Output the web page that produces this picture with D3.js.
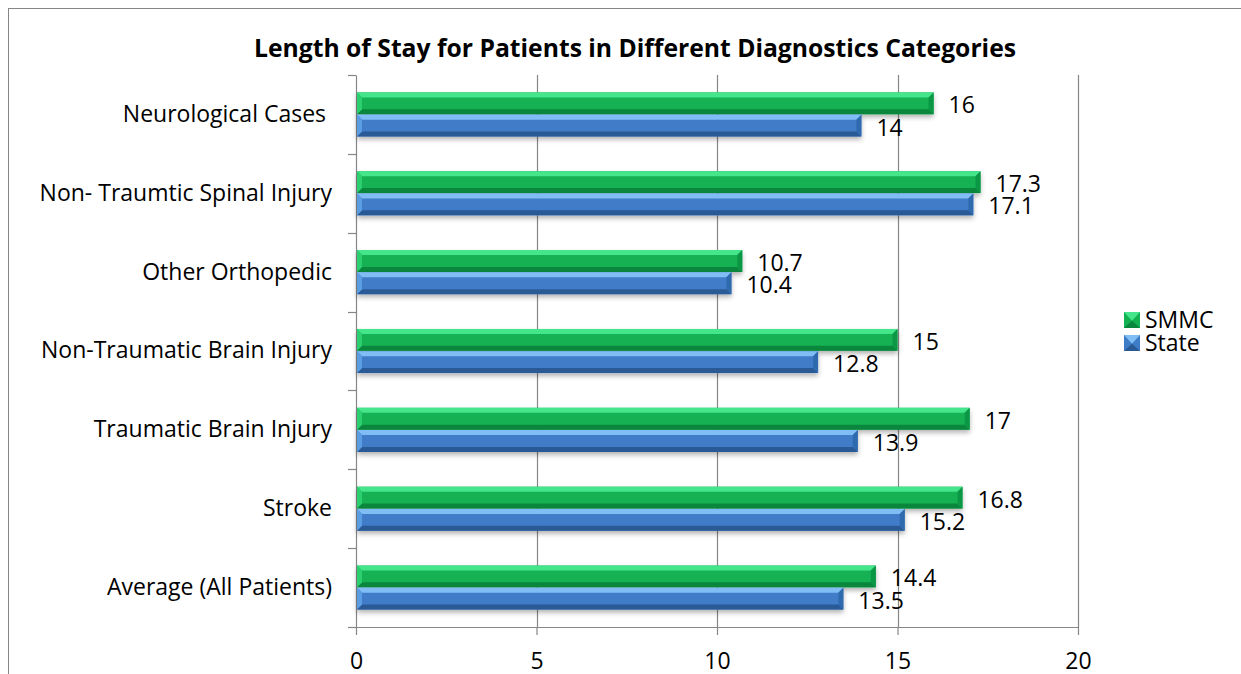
<!DOCTYPE html>
<html>
<head>
<meta charset="utf-8">
<script src="https://cdn.jsdelivr.net/npm/d3@7"></script>
<style>
  body { margin: 0; background: #fff; }
  text { font-family: "Open Sans", sans-serif; fill: #000; }
</style>
</head>
<body>
<div id="chart"></div>
<script>
// chart values
const categories = ["Neurological Cases ", "Non- Traumtic Spinal Injury", "Other Orthopedic",
    "Non-Traumatic Brain Injury", "Traumatic Brain Injury", "Stroke", "Average (All Patients)"];
const seriesNames = ["SMMC", "State"];
const smmcValues = [16, 17.3, 10.7, 15, 17, 16.8, 14.4];
const stateValues = [14, 17.1, 10.4, 12.8, 13.9, 15.2, 13.5];
const xTicks = [0, 5, 10, 15, 20];

const W = 1241, H = 674;
const plot = {l: 356, r: 1078, t: 75, b: 627};
const bevel = 5;
const fontSize = 23;

const palette = {
    SMMC: {face: "#13b152", top: "#45e58c", left: "#2bcf70", bottom: "#0a873d", right: "#0c9746"},
    State: {face: "#3f7cc7", top: "#7fbdf4", left: "#5a9de2", bottom: "#2a5a96", right: "#306aae"}
};

const svg = d3.select("#chart").append("svg")
    .attr("width", W).attr("height", H);

const defs = svg.append("defs");
const shadow = defs.append("filter").attr("id", "shadow")
    .attr("x", "-5%").attr("y", "-30%").attr("width", "110%").attr("height", "180%");
shadow.append("feDropShadow").attr("dx", 0).attr("dy", 3).attr("stdDeviation", 2.5)
    .attr("flood-color", "#000").attr("flood-opacity", 0.3);

// outer chart border (runs off the image on right and bottom)
svg.append("rect").attr("x", 8.5).attr("y", 8.5).attr("width", 1400).attr("height", 900)
    .attr("fill", "none").attr("stroke", "#868686").attr("stroke-width", 1);

// title
svg.append("text").attr("x", 635).attr("y", 57)
    .attr("text-anchor", "middle").attr("font-weight", "bold").attr("font-size", 24.7)
    .text("Length of Stay for Patients in Different Diagnostics Categories");

const x = d3.scaleLinear().domain([0, 20]).range([plot.l, plot.r]);
const y = d3.scaleBand().domain(categories).range([plot.t, plot.b])
    .paddingInner(0.43).paddingOuter(0.215);
const ySub = d3.scaleBand().domain(seriesNames).range([0, y.bandwidth()]).padding(0.02);

// gridlines
svg.append("g").selectAll("line").data(xTicks.slice(1)).enter().append("line")
    .attr("x1", d => Math.round(x(d)) + 0.5).attr("x2", d => Math.round(x(d)) + 0.5)
    .attr("y1", plot.t).attr("y2", plot.b)
    .attr("stroke", "#868686").attr("stroke-width", 1.2);

// x axis
const xAxis = svg.append("g").attr("transform", "translate(0," + plot.b + ")")
    .call(d3.axisBottom(x).tickValues(xTicks).tickSize(8).tickPadding(18).tickFormat(d3.format("d")));
xAxis.select(".domain").attr("d", "M" + (plot.l - 8) + ",0.5H" + plot.r)
    .attr("stroke", "#868686").attr("stroke-width", 1.2);
xAxis.selectAll(".tick line").attr("stroke", "#868686").attr("stroke-width", 1.2);
xAxis.selectAll(".tick text").attr("font-size", fontSize).attr("font-family", "'Open Sans', sans-serif").attr("fill", "#000");

// y axis
const yAxis = svg.append("g").attr("transform", "translate(" + plot.l + ",0)")
    .call(d3.axisLeft(y).tickSize(0).tickPadding(24));
yAxis.select(".domain").attr("stroke", "#868686").attr("stroke-width", 1.2);
yAxis.selectAll(".tick text").attr("font-size", fontSize).attr("font-family", "'Open Sans', sans-serif")
    .attr("fill", "#000").style("white-space", "pre");
// category separators
const bounds = categories.map(c => y(c) - y.step() * y.paddingInner() / 2).concat([plot.b]);
svg.append("g").selectAll("line").data(bounds).enter().append("line")
    .attr("x1", plot.l - 8).attr("x2", plot.l)
    .attr("y1", d => Math.round(d) + 0.5).attr("y2", d => Math.round(d) + 0.5)
    .attr("stroke", "#868686").attr("stroke-width", 1.2);

// bars
const rows = [];
categories.forEach((c, i) => {
    rows.push({cat: c, s: "SMMC", v: smmcValues[i]});
    rows.push({cat: c, s: "State", v: stateValues[i]});
});

const bars = svg.append("g").selectAll("g.bar").data(rows).enter()
    .append("g").attr("class", "bar");

function pts(arr) { return arr.map(p => p.join(",")).join(" "); }

bars.each(function (d) {
    const g = d3.select(this);
    const x0 = x(0) + 1, x1 = x(d.v);
    const y0 = y(d.cat) + ySub(d.s), y1 = y0 + ySub.bandwidth();
    const c = palette[d.s];
    const b = bevel;
    g.append("rect").attr("x", x0).attr("y", y0).attr("width", x1 - x0).attr("height", y1 - y0)
        .attr("fill", c.face).attr("filter", "url(#shadow)");
    g.append("polygon").attr("points", pts([[x0, y0], [x1, y0], [x1 - b, y0 + b], [x0 + b, y0 + b]])).attr("fill", c.top);
    g.append("polygon").attr("points", pts([[x0, y1], [x1, y1], [x1 - b, y1 - b], [x0 + b, y1 - b]])).attr("fill", c.bottom);
    g.append("polygon").attr("points", pts([[x0, y0], [x0 + b, y0 + b], [x0 + b, y1 - b], [x0, y1]])).attr("fill", c.left);
    g.append("polygon").attr("points", pts([[x1, y0], [x1 - b, y0 + b], [x1 - b, y1 - b], [x1, y1]])).attr("fill", c.right);
    g.append("text").attr("x", x1 + 15).attr("y", (y0 + y1) / 2 + 2).attr("dy", "0.35em")
        .attr("font-size", fontSize).text(d.v);
});

// legend
const legend = svg.append("g").selectAll("g").data(seriesNames).enter().append("g")
    .attr("transform", (d, i) => "translate(1124," + (312 + i * 23) + ")");
legend.each(function (d) {
    const g = d3.select(this), c = palette[d], s = 16;
    g.append("rect").attr("width", s).attr("height", s).attr("fill", c.face);
    g.append("polygon").attr("points", pts([[0, 0], [s, 0], [s / 2, s * 0.55]])).attr("fill", c.top);
    g.append("polygon").attr("points", pts([[0, s], [s, s], [s / 2, s * 0.55]])).attr("fill", c.bottom);
    g.append("text").attr("x", 21).attr("y", s / 2).attr("dy", "0.35em").attr("font-size", fontSize).text(d);
});
</script>
</body>
</html>
